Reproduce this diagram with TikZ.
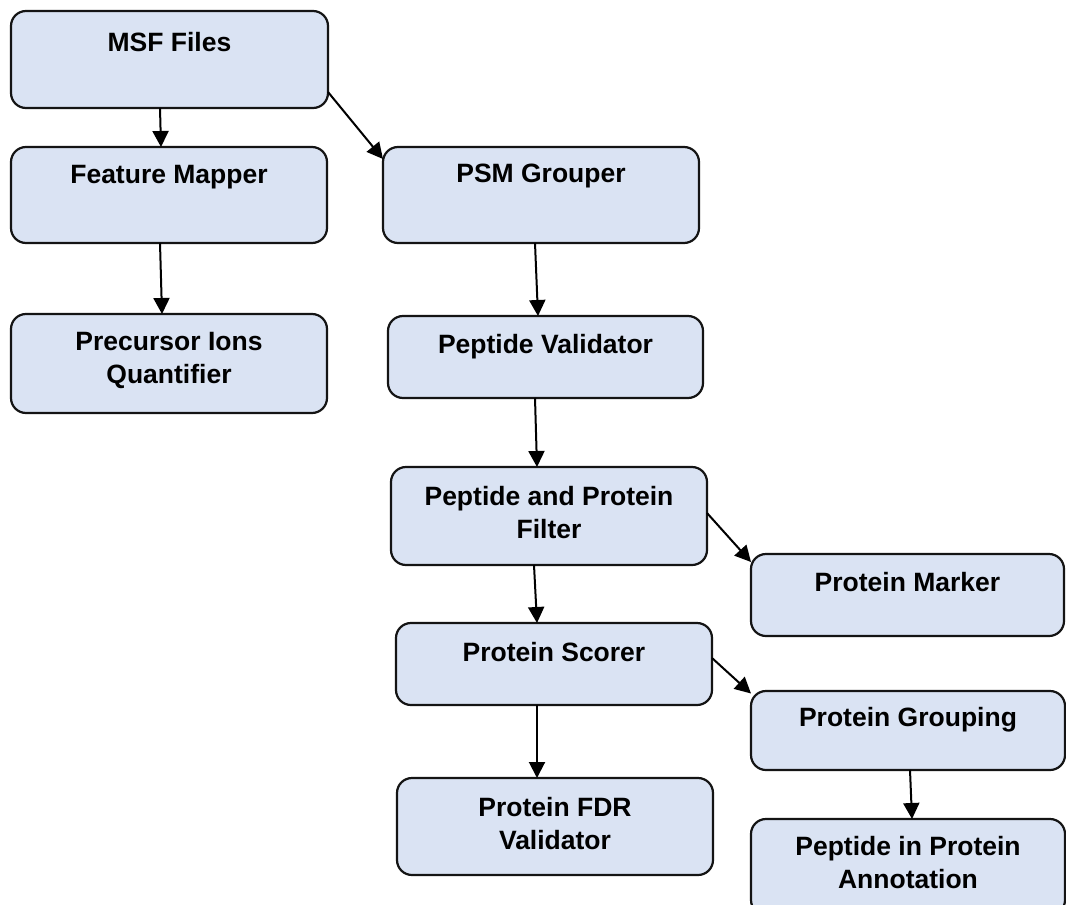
\documentclass[tikz,border=0pt]{standalone}
\usepackage{fontspec}
\setmainfont{Liberation Sans}
\usetikzlibrary{arrows.meta}
\definecolor{boxfill}{RGB}{218,227,243}
\definecolor{boxline}{RGB}{20,20,20}
\begin{document}
\begin{tikzpicture}[x=1pt,y=-1pt,
  stagebox/.style={draw=boxline, fill=boxfill, line width=2.2pt, rounded corners=15pt,
    inner sep=0pt, outer sep=0pt},
  lbl/.style={font=\fontsize{26.5}{33}\selectfont\bfseries, align=center, inner sep=0pt},
  arr/.style={draw=black, line width=2pt, -{Triangle[length=16pt,width=16pt]}}]
\clip (0,0) rectangle (1066,905);
\fill[white] (0,0) rectangle (1066,905);

% processing stages
\node[stagebox, minimum width=317pt, minimum height=97pt] (msf)    at (169.5,59.5) {};
\node[stagebox, minimum width=316pt, minimum height=96pt] (fm)     at (169,195) {};
\node[stagebox, minimum width=316pt, minimum height=99pt] (prec)   at (169,363.5) {};
\node[stagebox, minimum width=316pt, minimum height=96pt] (psm)    at (541,195) {};
\node[stagebox, minimum width=315pt, minimum height=82pt] (pv)     at (545.5,357) {};
\node[stagebox, minimum width=316pt, minimum height=98pt] (filt)   at (549,516) {};
\node[stagebox, minimum width=313pt, minimum height=82pt] (marker) at (907.5,595) {};
\node[stagebox, minimum width=316pt, minimum height=82pt] (scorer) at (554,664) {};
\node[stagebox, minimum width=314pt, minimum height=79pt] (group)  at (908,730.5) {};
\node[stagebox, minimum width=316pt, minimum height=97pt] (fdr)    at (555,826.5) {};
\node[stagebox, minimum width=314pt, minimum height=96pt] (annot)  at (908,867) {};

% stage titles
\node[lbl] (msf-t)    at (169.5,42) {MSF Files};
\node[lbl] (fm-t)     at (169,177) {Feature Mapper};
\node[lbl] (prec-t)   at (169,360.5) {Precursor Ions\\Quantifier};
\node[lbl] (psm-t)    at (541,176) {PSM Grouper};
\node[lbl] (pv-t)     at (545.5,347) {Peptide Validator};
\node[lbl] (filt-t)   at (549,513) {Peptide and Protein\\Filter};
\node[lbl] (marker-t) at (907.5,582) {Protein Marker};
\node[lbl] (scorer-t) at (554,652) {Protein Scorer};
\node[lbl] (group-t)  at (908,720) {Protein Grouping};
\node[lbl] (fdr-t)    at (555,824) {Protein FDR\\Validator};
\node[lbl] (annot-t)  at (908,863) {Peptide in Protein\\Annotation};

% flow between stages
\draw[arr] ([xshift=-9.5pt]msf.south) -- ([xshift=-8pt]fm.north);
\draw[arr] ([yshift=-32.5pt]msf.east) -- ([yshift=36pt]psm.west);
\draw[arr] ([xshift=-9pt]fm.south) -- ([xshift=-7pt]prec.north);
\draw[arr] ([xshift=-6pt]psm.south) -- ([xshift=-7.5pt]pv.north);
\draw[arr] ([xshift=-10.5pt]pv.south) -- ([xshift=-12pt]filt.north);
\draw[arr] ([xshift=-15pt]filt.south) -- ([xshift=-17pt]scorer.north);
\draw[arr] ([yshift=3pt]filt.east) -- ([yshift=33pt]marker.west);
\draw[arr] ([xshift=-17pt]scorer.south) -- ([xshift=-18pt]fdr.north);
\draw[arr] ([yshift=6pt]scorer.east) -- ([yshift=37pt]group.west);
\draw[arr] ([xshift=2pt]group.south) -- ([xshift=4pt]annot.north);
\end{tikzpicture}
\end{document}
